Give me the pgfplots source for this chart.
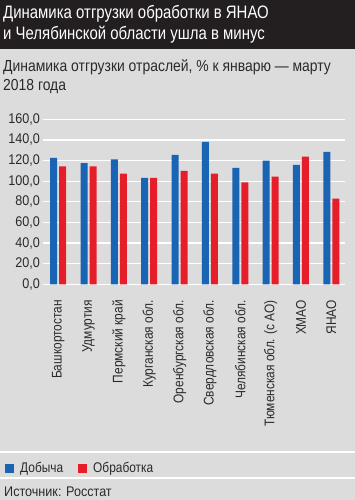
\documentclass[border=0pt]{standalone}
\usepackage{fontspec}
\setmainfont{Liberation Sans}[FakeStretch=0.85]
\newfontfamily\tickfont{Liberation Sans}[FakeStretch=0.9]
\newfontfamily\titlefont{Liberation Sans}[FakeStretch=0.83]
\newfontfamily\subfont{Liberation Sans}[FakeStretch=0.87]
\newfontfamily\srcfont{Liberation Sans}[FakeStretch=0.9]
\usepackage{pgfplots}
\pgfplotsset{compat=1.18}
\definecolor{cBlue}{HTML}{1A64B4}
\definecolor{cRed}{HTML}{E61E2A}
\definecolor{cBg}{HTML}{DCDCDC}
\definecolor{cBand}{HTML}{231F20}
\definecolor{cText}{HTML}{2A2A2A}
\begin{document}
\begin{tikzpicture}[x=1pt,y=1pt]
\fill[cBg] (0,0) rectangle (355,500);
\useasboundingbox (0,0) rectangle (355,500);
\fill[cBand] (0,451) rectangle (355,500);
\node[anchor=base west, inner sep=0pt, text=white, font=\titlefont\fontsize{18}{20}\selectfont] at (3,481.5) {Динамика отгрузки обработки в ЯНАО};
\node[anchor=base west, inner sep=0pt, text=white, font=\titlefont\fontsize{18}{20}\selectfont] at (3,460) {и Челябинской области ушла в минус};
\node[anchor=base west, inner sep=0pt, text=cText, font=\subfont\fontsize{16}{18}\selectfont] at (3,428.3) {Динамика отгрузки отраслей, \% к январю — марту};
\node[anchor=base west, inner sep=0pt, text=cText, font=\subfont\fontsize{16}{18}\selectfont] at (3,409.3) {2018 года};
\draw[white, line width=1.5pt] (0,48) -- (355,48);
\draw[white, line width=1.5pt] (0,22) -- (355,22);
\node[anchor=base west, inner sep=0pt, text=cText, font=\srcfont\fontsize{14}{15}\selectfont] at (4,3.3) {Источник: Росстат};
\begin{axis}[
  at={(43pt,215.7pt)}, anchor=south west,
  scale only axis, width=302pt, height=165pt,
  xmin=-0.5, xmax=9.45, ymin=0, ymax=160,
  axis line style={draw=none},
  ybar=2pt, bar width=7pt,
  ytick={0,20,...,160},
  xtick={0,...,9},
  xticklabels={Башкортостан,Удмуртия,Пермский край,Курганская обл.,Оренбургская обл.,Свердловская обл.,Челябинская обл.,Тюменская обл. (с АО),ХМАО,ЯНАО},
  major tick length=0pt,
  ymajorgrids, major grid style={white, line width=1.3pt},
  /pgf/number format/.cd, fixed, fixed zerofill, precision=1, use comma, assume math mode=true, /pgfplots/.cd,
  yticklabel style={anchor=east, inner sep=0pt, xshift=-3pt, text=cText, font=\tickfont\fontsize{14}{16}\selectfont},
  xticklabel style={rotate=90, anchor=east, inner sep=0pt, text=cText, font=\fontsize{14}{16}\selectfont},
  xticklabel shift=15.7pt,
  legend columns=2,
  legend style={at={(-0.1258,-1.1133)}, anchor=west, draw=none, fill=none, inner sep=0pt, column sep=6.5pt,
    nodes={inner sep=0pt, anchor=base west}, font=\fontsize{14}{16}\selectfont, text=cText,
    /tikz/every even column/.append style={column sep=15pt}},
]
\addplot[fill=cBlue, draw=none, legend image code/.code={\fill[cBlue] (0pt,-0.5pt) rectangle (8.5pt,8pt);}] coordinates {
(0,122.5) (1,117.4) (2,121.2) (3,103.1) (4,125.4) (5,138.0) (6,112.8) (7,119.9) (8,115.7) (9,128.3)};
\addplot[fill=cRed, draw=none, legend image code/.code={\fill[cRed] (0pt,-0.5pt) rectangle (8.5pt,8pt);}] coordinates {
(0,114.4) (1,114.4) (2,107.3) (3,103.1) (4,109.9) (5,107.3) (6,98.9) (7,104.4) (8,123.8) (9,83.0)};
\legend{Добыча,Обработка}
\end{axis}
\end{tikzpicture}
\end{document}
